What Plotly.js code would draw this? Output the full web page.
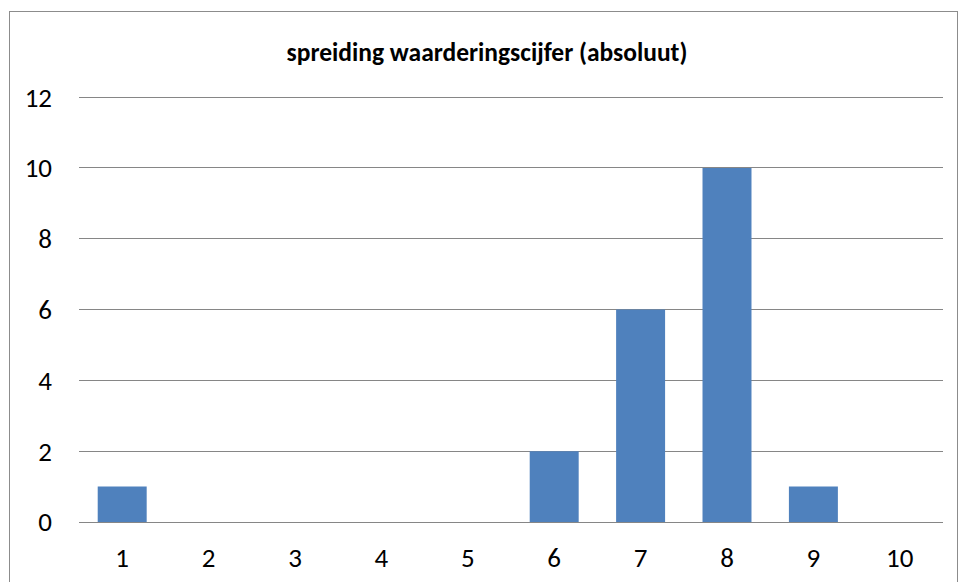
<!DOCTYPE html>
<html>
<head>
<meta charset="utf-8">
<script src="https://cdn.plot.ly/plotly-3.0.1.min.js"></script>
<style>
  html, body { margin: 0; padding: 0; background: #fff; overflow: hidden; }
  #wrap { position: relative; width: 959px; height: 582px; }
  #chart { position: absolute; left: 0; top: 0; width: 959px; height: 582px; }
  #frame { position: absolute; left: 9px; top: 11px; width: 947px; height: 600px; border: 1px solid #8c8c8c; pointer-events: none; }
</style>
</head>
<body>
<div id="wrap">
  <div id="chart"></div>
  <div id="frame"></div>
</div>
<script>
const categories = ["1", "2", "3", "4", "5", "6", "7", "8", "9", "10"];
const counts = [1, 0, 0, 0, 0, 2, 6, 10, 1, 0];
const yTicks = [0, 2, 4, 6, 8, 10, 12];
const chartTitle = "spreiding waarderingscijfer (absoluut)";

const font = "Carlito, Calibri, 'Liberation Sans', Arial, sans-serif";

Plotly.newPlot("chart", [{
  type: "bar",
  x: categories,
  y: counts,
  marker: { color: "#4F81BD", line: { width: 0 } },
  hoverinfo: "x+y"
}], {
  width: 959,
  height: 582,
  margin: { l: 79, r: 16, t: 95, b: 60, pad: 0 },
  paper_bgcolor: "rgba(0,0,0,0)",
  plot_bgcolor: "rgba(0,0,0,0)",
  bargap: 0.433,
  showlegend: false,
  title: {
    text: "<b>" + chartTitle + "</b>",
    font: { family: font, size: 25.5, color: "#000" },
    x: 487 / 959, xanchor: "center", xref: "container",
    y: 1 - 52 / 582, yanchor: "middle", yref: "container"
  },
  xaxis: {
    type: "category",
    tickfont: { family: font, size: 27, color: "#000" },
    showgrid: false,
    showline: false,
    zeroline: false,
    ticks: "outside", ticklen: 0,
    ticklabelstandoff: 12
  },
  yaxis: {
    range: [0, 12.06],
    tickvals: yTicks,
    ticktext: yTicks.map(String),
    tickfont: { family: font, size: 27, color: "#000" },
    showgrid: true,
    gridcolor: "#868686",
    gridwidth: 1,
    zeroline: true,
    zerolinecolor: "#868686",
    zerolinewidth: 1,
    showline: false,
    ticks: "",
    ticklabelstandoff: 26
  }
}, { displayModeBar: false, staticPlot: true });
</script>
</body>
</html>
